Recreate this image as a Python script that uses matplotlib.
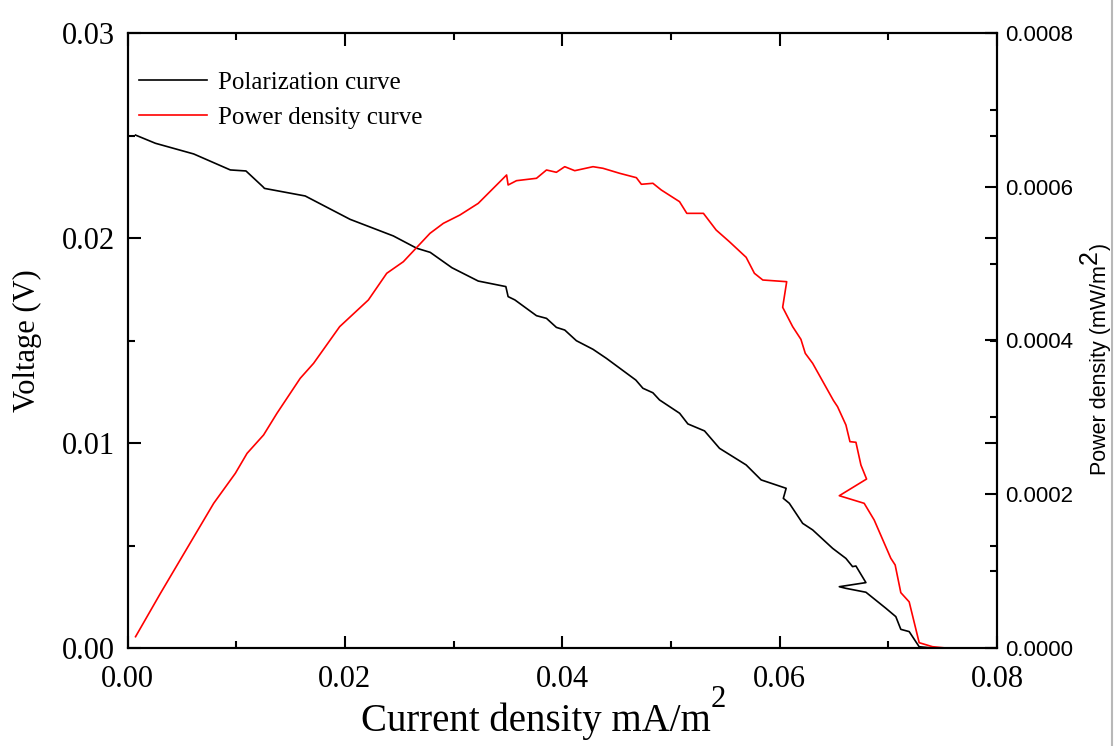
import matplotlib
matplotlib.use('Agg')
import matplotlib.pyplot as plt
from matplotlib.lines import Line2D
from matplotlib.ticker import MultipleLocator, FormatStrFormatter

# polarization curve (current density, voltage)
pol_x = [0.00074, 0.00257, 0.00609, 0.00946, 0.0109, 0.01246, 0.0126, 0.01635, 0.02048, 0.02446,
         0.02661, 0.02785, 0.02985, 0.03227, 0.03481, 0.03502, 0.03564, 0.03763, 0.03855, 0.03946,
         0.04023, 0.0413, 0.04283, 0.04406, 0.04677, 0.04742, 0.04834, 0.04895, 0.0508, 0.05156,
         0.05309, 0.05447, 0.05692, 0.0583, 0.0606, 0.06034, 0.06089, 0.06212, 0.06304, 0.06488,
         0.0661, 0.06671, 0.06702, 0.06794, 0.06549, 0.0661, 0.06794, 0.06977, 0.07069, 0.07115,
         0.07192, 0.07284, 0.07406]
pol_v = [0.02502, 0.02462, 0.0241, 0.02332, 0.02327, 0.0225, 0.02242, 0.02205, 0.02091, 0.0201,
         0.0195, 0.0193, 0.01855, 0.0179, 0.01763, 0.01714, 0.01698, 0.01621, 0.01608, 0.01564,
         0.01551, 0.01499, 0.01457, 0.01413, 0.01307, 0.01267, 0.01245, 0.0121, 0.01145, 0.01093,
         0.01059, 0.00974, 0.00893, 0.0082, 0.00779, 0.0073, 0.00706, 0.00608, 0.00576, 0.00486,
         0.00437, 0.00397, 0.004, 0.00319, 0.00299, 0.00291, 0.00272, 0.00194, 0.00153, 0.00091,
         0.0008, 0.00006, 0.0]

# power density curve
pow_x = [0.00074, 0.00303, 0.00548, 0.00793, 0.00992, 0.011, 0.01252, 0.01375, 0.01589, 0.01712,
         0.01952, 0.02216, 0.02385, 0.02538, 0.02783, 0.02906, 0.03058, 0.03227, 0.03488, 0.03502,
         0.03579, 0.03763, 0.03855, 0.03946, 0.04023, 0.04115, 0.04283, 0.04375, 0.04528, 0.04682,
         0.04728, 0.04834, 0.04911, 0.05079, 0.05146, 0.05299, 0.05416, 0.05538, 0.05692, 0.05768,
         0.05845, 0.06065, 0.06028, 0.0612, 0.06196, 0.06236, 0.06304, 0.06495, 0.06533, 0.0661,
         0.06647, 0.06702, 0.06748, 0.068, 0.06549, 0.06778, 0.0687, 0.07023, 0.07063, 0.07115,
         0.07192, 0.07284, 0.07406, 0.07529, 0.07605]
pow_p = [1.47e-5, 7.11e-5, 1.297e-4, 1.882e-4, 2.272e-4, 2.532e-4, 2.771e-4, 3.053e-4, 3.508e-4, 3.703e-4,
         4.18e-4, 4.527e-4, 4.874e-4, 5.025e-4, 5.394e-4, 5.524e-4, 5.632e-4, 5.784e-4, 6.153e-4, 6.023e-4,
         6.079e-4, 6.11e-4, 6.218e-4, 6.188e-4, 6.261e-4, 6.209e-4, 6.261e-4, 6.24e-4, 6.175e-4, 6.118e-4,
         6.032e-4, 6.045e-4, 5.958e-4, 5.806e-4, 5.654e-4, 5.654e-4, 5.437e-4, 5.285e-4, 5.082e-4, 4.874e-4,
         4.787e-4, 4.765e-4, 4.432e-4, 4.18e-4, 4.015e-4, 3.833e-4, 3.703e-4, 3.22e-4, 3.139e-4, 2.901e-4,
         2.684e-4, 2.676e-4, 2.38e-4, 2.198e-4, 1.981e-4, 1.882e-4, 1.665e-4, 1.167e-4, 1.08e-4, 7.2e-5,
         6.0e-5, 6.9e-6, 1.7e-6, 0.0, -1e-6]

W, H = 1115, 746
serif = 'Liberation Serif'
sans = 'Liberation Sans'

fig = plt.figure(figsize=(W / 100, H / 100), dpi=100)
ax = fig.add_axes([127.5 / W, 1 - 648 / H, (997 - 127.5) / W, 615 / H])
ax2 = ax.twinx()

p1 = ax.plot(pol_x, pol_v, color='black', lw=1.2)
p2 = ax2.plot(pow_x, pow_p, color='red', lw=1.2)

ax.set_xlim(0, 0.08)
ax.set_ylim(0, 0.03)
ax2.set_ylim(0, 0.0008)

ax.xaxis.set_major_locator(MultipleLocator(0.02))
ax.xaxis.set_minor_locator(MultipleLocator(0.01))
ax.yaxis.set_major_locator(MultipleLocator(0.01))
ax.yaxis.set_minor_locator(MultipleLocator(0.005))
ax2.yaxis.set_major_locator(MultipleLocator(0.0002))
ax2.yaxis.set_minor_locator(MultipleLocator(0.0001))
ax.xaxis.set_major_formatter(FormatStrFormatter('%.2f'))
ax.yaxis.set_major_formatter(FormatStrFormatter('%.2f'))
ax2.yaxis.set_major_formatter(FormatStrFormatter('%.4f'))

ax.tick_params(which='both', direction='in', top=True, right=True, width=1.5)
ax.tick_params(which='major', length=9)
ax.tick_params(which='minor', length=5)
ax.tick_params(axis='x', pad=12)
ax.tick_params(axis='y', pad=9)
ax2.tick_params(which='both', direction='in', width=1.5)
ax2.tick_params(which='major', length=9, pad=6)
ax2.tick_params(which='minor', length=5)

for lab in ax.get_xticklabels() + ax.get_yticklabels():
    lab.set_fontfamily(serif)
    lab.set_fontsize(22)
for lab in ax2.get_yticklabels():
    lab.set_fontfamily(sans)
    lab.set_fontsize(16)

for a in (ax, ax2):
    for s in a.spines.values():
        s.set_linewidth(1.5)

ax.set_ylabel('Voltage (V)', fontfamily=serif, fontsize=22, labelpad=14)

# x label with big superscript
xl = fig.text(361 / W, 1 - 731 / H, 'Current density mA/m', fontfamily=serif, fontsize=28,
              ha='left', va='baseline')
ax.annotate('2', xy=(1, 0), xycoords=xl, xytext=(0, 33), textcoords='offset pixels',
            fontfamily=serif, fontsize=22, ha='left', va='baseline')

# right label, rotated
rl = fig.text(1106 / W, 1 - 475 / H, 'Power density (mW/m', fontfamily=sans, fontsize=15.5,
              rotation=90, rotation_mode='anchor', ha='left', va='baseline')
two = ax.annotate('2', xy=(1, 1), xycoords=rl, xytext=(-14, 1), textcoords='offset pixels',
                  fontfamily=sans, fontsize=18, rotation=90, rotation_mode='anchor',
                  ha='left', va='baseline')
ax.annotate(')', xy=(1, 1), xycoords=two, xytext=(4, 0), textcoords='offset pixels',
            fontfamily=sans, fontsize=15.5, rotation=90, rotation_mode='anchor',
            ha='left', va='baseline')

ax.legend((p1[0], p2[0]), ('Polarization curve', 'Power density curve'),
          loc='upper left', bbox_to_anchor=(0.002, 0.9535), frameon=False,
          prop={'family': serif, 'size': 18}, handlelength=2.7, handletextpad=0.45,
          labelspacing=0.5, borderaxespad=0)

fig.add_artist(Line2D([1112 / W, 1112 / W], [0, 1], color='#b8b8b8', lw=1.5,
                      transform=fig.transFigure))

plt.savefig('out.png', dpi=100)
